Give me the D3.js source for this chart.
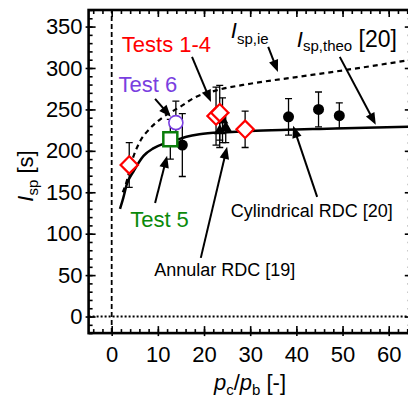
<!DOCTYPE html>
<html>
<head>
<meta charset="utf-8">
<script src="https://cdn.jsdelivr.net/npm/d3@7"></script>
<style>
  body { margin: 0; background: #fff; }
  text { font-family: "Liberation Sans", Arial, sans-serif; }
</style>
</head>
<body>
<div id="chart"></div>
<script>
// tick values
const xTicks = [0, 10, 20, 30, 40, 50, 60];
const yTicks = [0, 50, 100, 150, 200, 250, 300, 350];

// Tests 1-4 (red diamonds)
const testsX = [3.8, 22.6, 23.4, 28.9];
const testsY = [183, 242, 246, 226];
const testsErr = [27, 35, 33, 22];
// Test 5 (green square)
const test5X = [12.7];
const test5Y = [214];
const test5Err = [24];
// Test 6 (purple circle)
const test6X = [13.9];
const test6Y = [234];
const test6Err = [26];
// Cylindrical RDC [20] (black circles)
const cylX = [15.3, 38.3, 44.8, 49.3];
const cylY = [207, 241, 250, 242.5];
const cylErr = [38, 22, 21, 15.5];
// Annular RDC [19] (black triangles)
const annX = [24.0, 24.7, 23.4];
const annY = [237, 228, 224];
const annErr = [27, 18, 20];

// theoretical curves
const theoX = [1.8, 2.5, 3.3, 4.7, 6.9, 9, 11.2, 14, 16.2, 19, 25, 30, 38, 45, 55, 65];
const theoY = [130, 143, 160, 175, 194, 203, 208.5, 213, 217, 220, 222.5, 224, 225.5, 226.5, 228, 229.3];
const ieX = [2.4, 2.9, 4.7, 6.1, 8.3, 11.2, 14.8, 17.7, 22.7, 30, 40, 50, 65];
const ieY = [150, 157, 193, 211, 227, 241, 253, 263.5, 273, 281, 289, 297, 310];

const W = 408, H = 399;
const svg = d3.select("#chart").append("svg")
    .attr("width", W).attr("height", H)
    .style("background", "#fff");

const x = d3.scaleLinear().domain([-5, 65]).range([88.6, 411.8]);
const y = d3.scaleLinear().domain([-20, 370]).range([333.1, 10.0]);

// clip for the plot area
svg.append("clipPath").attr("id", "clip")
  .append("rect")
    .attr("x", x(-5)).attr("y", y(370))
    .attr("width", x(65) - x(-5)).attr("height", y(-20) - y(370));

const plot = svg.append("g").attr("clip-path", "url(#clip)");

// zero reference lines
plot.append("line")
    .attr("x1", x(0)).attr("x2", x(0))
    .attr("y1", y(-20)).attr("y2", y(370))
    .attr("stroke", "#000").attr("stroke-width", 1.8)
    .attr("stroke-dasharray", "5,3");
plot.append("line")
    .attr("x1", x(-5)).attr("x2", x(65))
    .attr("y1", y(0)).attr("y2", y(0))
    .attr("stroke", "#000").attr("stroke-width", 2)
    .attr("stroke-dasharray", "2,2");

// curves
const line = d3.line()
    .x(d => x(d[0])).y(d => y(d[1]))
    .curve(d3.curveMonotoneX);
plot.append("path")
    .attr("d", line(d3.zip(ieX, ieY)))
    .attr("fill", "none").attr("stroke", "#000")
    .attr("stroke-width", 2.2).attr("stroke-dasharray", "5,4");
plot.append("path")
    .attr("d", line(d3.zip(theoX, theoY)))
    .attr("fill", "none").attr("stroke", "#000")
    .attr("stroke-width", 2.5);

// error bars
function errorBars(xs, ys, es) {
    const d = d3.zip(xs, ys, es);
    const g = plot.append("g").attr("stroke", "#000").attr("stroke-width", 1.3);
    g.selectAll("line.v").data(d).enter().append("line")
        .attr("x1", d => x(d[0])).attr("x2", d => x(d[0]))
        .attr("y1", d => y(d[1] - d[2])).attr("y2", d => y(d[1] + d[2]));
    g.selectAll("line.t").data(d).enter().append("line")
        .attr("x1", d => x(d[0]) - 3.5).attr("x2", d => x(d[0]) + 3.5)
        .attr("y1", d => y(d[1] + d[2])).attr("y2", d => y(d[1] + d[2]));
    g.selectAll("line.b").data(d).enter().append("line")
        .attr("x1", d => x(d[0]) - 3.5).attr("x2", d => x(d[0]) + 3.5)
        .attr("y1", d => y(d[1] - d[2])).attr("y2", d => y(d[1] - d[2]));
}
errorBars(annX, annY, annErr);
errorBars(cylX, cylY, cylErr);
errorBars(test5X, test5Y, test5Err);
errorBars(test6X, test6Y, test6Err);
errorBars(testsX, testsY, testsErr);

// markers
plot.selectAll("path.ann").data(d3.zip(annX, annY)).enter().append("path")
    .attr("d", d3.symbol(d3.symbolTriangle).size(60))
    .attr("transform", d => "translate(" + x(d[0]) + "," + y(d[1]) + ")")
    .attr("fill", "#000");
plot.selectAll("circle.cyl").data(d3.zip(cylX, cylY)).enter().append("circle")
    .attr("cx", d => x(d[0])).attr("cy", d => y(d[1])).attr("r", 5.5)
    .attr("fill", "#000");
plot.selectAll("rect.t5").data(d3.zip(test5X, test5Y)).enter().append("rect")
    .attr("x", d => x(d[0]) - 7).attr("y", d => y(d[1]) - 7)
    .attr("width", 14).attr("height", 14)
    .attr("fill", "#fff").attr("stroke", "#0a7d0a").attr("stroke-width", 2.5);
plot.selectAll("circle.t6").data(d3.zip(test6X, test6Y)).enter().append("circle")
    .attr("cx", d => x(d[0])).attr("cy", d => y(d[1])).attr("r", 7)
    .attr("fill", "#fff").attr("stroke", "#7a3fe0").attr("stroke-width", 1.6);
plot.selectAll("path.tests").data(d3.zip(testsX, testsY)).enter().append("path")
    .attr("d", d3.symbol(d3.symbolSquare).size(150))
    .attr("transform", d => "translate(" + x(d[0]) + "," + y(d[1]) + ") rotate(45)")
    .attr("fill", "#fff").attr("stroke", "#ff0000").attr("stroke-width", 2.2);

// axes
function minorVals(lo, hi, step) { return d3.range(lo, hi + 0.001, step); }
const xMinor = minorVals(-4, 64, 2);
const yMinor = minorVals(-20, 370, 10);

function addAxis(axis, tf) {
    const g = svg.append("g").attr("transform", tf).call(axis);
    g.select(".domain").remove();
    g.selectAll("line").attr("stroke", "#000").attr("stroke-width", 1.6);
    g.selectAll("text").style("font-size", "22px").attr("fill", "#000");
    return g;
}
// minor ticks (inward)
addAxis(d3.axisBottom(x).tickValues(xMinor).tickSize(-4).tickFormat(""), "translate(0," + y(-20) + ")");
addAxis(d3.axisTop(x).tickValues(xMinor).tickSize(-4).tickFormat(""), "translate(0," + y(370) + ")");
addAxis(d3.axisLeft(y).tickValues(yMinor).tickSize(-4).tickFormat(""), "translate(" + x(-5) + ",0)");
addAxis(d3.axisRight(y).tickValues(yMinor).tickSize(-4).tickFormat(""), "translate(" + x(65) + ",0)");
// major ticks
addAxis(d3.axisBottom(x).tickValues(xTicks).tickSize(-7).tickPadding(13).tickFormat(d3.format("d")), "translate(0," + y(-20) + ")");
addAxis(d3.axisBottom(x).tickValues(xTicks).tickSize(3).tickFormat(""), "translate(0," + y(-20) + ")");
addAxis(d3.axisTop(x).tickValues(xTicks).tickSize(-7).tickFormat(""), "translate(0," + y(370) + ")");
addAxis(d3.axisLeft(y).tickValues(yTicks).tickSize(-7).tickPadding(6).tickFormat(d3.format("d")), "translate(" + x(-5) + ",0)");
addAxis(d3.axisLeft(y).tickValues(yTicks).tickSize(3).tickFormat(""), "translate(" + x(-5) + ",0)");
addAxis(d3.axisRight(y).tickValues(yTicks).tickSize(-7).tickFormat(""), "translate(" + x(65) + ",0)");

// frame
svg.append("rect")
    .attr("x", x(-5)).attr("y", y(370))
    .attr("width", x(65) - x(-5)).attr("height", y(-20) - y(370))
    .attr("fill", "none").attr("stroke", "#000").attr("stroke-width", 2.6);

// axis titles
const yTitle = svg.append("text")
    .attr("transform", "translate(33," + 176 + ") rotate(-90)")
    .attr("text-anchor", "middle")
    .style("font-size", "22px");
yTitle.append("tspan").style("font-style", "italic").text("I");
yTitle.append("tspan").attr("dy", 5).style("font-size", "15px").text("sp");
yTitle.append("tspan").attr("dy", -5).text(" [s]");

const xTitle = svg.append("text")
    .attr("x", 250).attr("y", 390)
    .attr("text-anchor", "middle")
    .style("font-size", "22px");
xTitle.append("tspan").style("font-style", "italic").text("p");
xTitle.append("tspan").attr("dy", 5).style("font-size", "15px").text("c");
xTitle.append("tspan").attr("dy", -5).text("/");
xTitle.append("tspan").style("font-style", "italic").text("p");
xTitle.append("tspan").attr("dy", 5).style("font-size", "15px").text("b");
xTitle.append("tspan").attr("dy", -5).text(" [-]");

// annotation arrows: start and tip, in data units
const arrowFrom = [[17.4, 313.4], [9.4, 262.7], [9.4, 137], [19.3, 70.8], [44.5, 144.5], [33.9, 325.5], [49.4, 313.4]];
const arrowTo = [[21.5, 259.1], [12.8, 241], [12.0, 194], [25.0, 204.8], [39.3, 230.2], [36.0, 295.3], [57.2, 231.4]];

const ag = svg.append("g");
d3.zip(arrowFrom, arrowTo).forEach(function(a) {
    const x1 = x(a[0][0]), y1 = y(a[0][1]), x2 = x(a[1][0]), y2 = y(a[1][1]);
    const ang = Math.atan2(y2 - y1, x2 - x1);
    const len = 12, half = 4.8;
    ag.append("line")
        .attr("x1", x1).attr("y1", y1)
        .attr("x2", x2 - Math.cos(ang) * len * 0.8).attr("y2", y2 - Math.sin(ang) * len * 0.8)
        .attr("stroke", "#000").attr("stroke-width", 2);
    const bx = x2 - Math.cos(ang) * len, by = y2 - Math.sin(ang) * len;
    const px = -Math.sin(ang) * half, py = Math.cos(ang) * half;
    ag.append("path")
        .attr("d", "M" + x2 + "," + y2 + "L" + (bx + px) + "," + (by + py) + "L" + (bx - px) + "," + (by - py) + "Z")
        .attr("fill", "#000");
});

// annotation labels
function label(xv, yv, size, color, txt) {
    return svg.append("text").attr("x", x(xv)).attr("y", y(yv))
        .style("font-size", size + "px").attr("fill", color).text(txt);
}
label(2.2, 319.4, 22, "#ff0000", "Tests 1-4");
label(1.5, 271, 22, "#7a3fe0", "Test 6");
label(4.0, 108, 22, "#0a8a0a", "Test 5");
label(9.2, 49, 18, "#000", "Annular RDC [19]");
label(25.8, 120, 18, "#000", "Cylindrical RDC [20]");

const ie = svg.append("text").attr("x", x(25.8)).attr("y", y(336))
    .style("font-size", "22px");
ie.append("tspan").style("font-style", "italic").text("I");
ie.append("tspan").attr("dy", 6).style("font-size", "15px").text("sp,ie");

const theo = svg.append("text").attr("x", x(40.1)).attr("y", y(325.5))
    .style("font-size", "22px");
theo.append("tspan").style("font-style", "italic").text("I");
theo.append("tspan").attr("dy", 4).style("font-size", "15px").text("sp,theo");
theo.append("tspan").attr("dy", -4).style("font-size", "23px").text(" [20]");
</script>
</body>
</html>
